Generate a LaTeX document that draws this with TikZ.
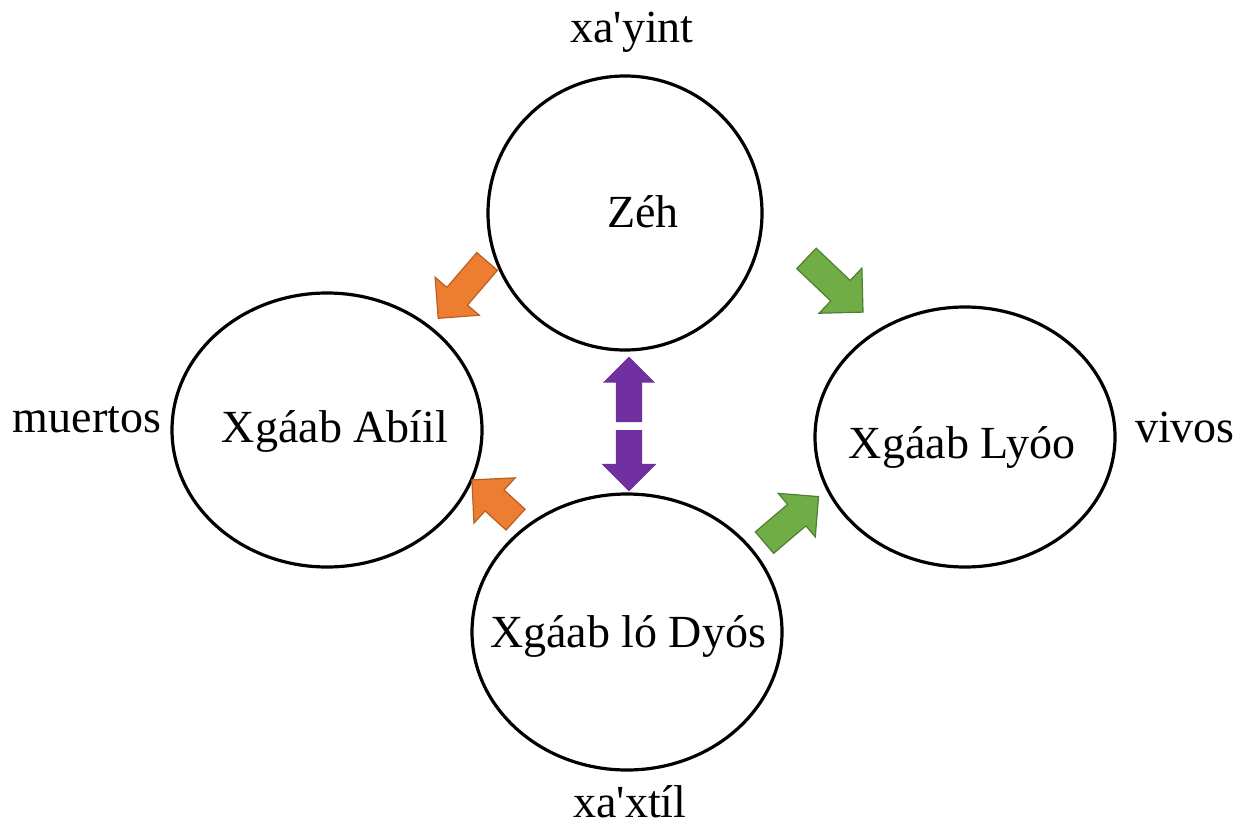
\documentclass[tikz,border=0pt]{standalone}
\usepackage{fontspec}
\setmainfont{Liberation Serif}
\usetikzlibrary{shapes.geometric,shapes.arrows}
\definecolor{orangeF}{HTML}{ED7D31}
\definecolor{orangeD}{HTML}{B85F22}
\definecolor{greenF}{HTML}{70AD47}
\definecolor{greenD}{HTML}{507E32}
\definecolor{purpleF}{HTML}{7030A0}
\tikzset{
  ring/.style={draw=black, line width=1.6pt, ellipse, inner sep=0pt},
  word/.style={font=\fontsize{23}{27}\selectfont, inner sep=0pt, anchor=base},
  blockarrow/.style={single arrow, single arrow tip angle=90, inner xsep=0pt,
     anchor=tail, line width=0.6pt, minimum width=1pt},
  orangearrow/.style={blockarrow, fill=orangeF, draw=orangeD},
  greenarrow/.style={blockarrow, fill=greenF, draw=greenD},
  purplearrow/.style={blockarrow, fill=purpleF, draw=purpleF},
}
\begin{document}
\begin{tikzpicture}[x=0.5pt, y=-0.5pt]
\useasboundingbox (0,0) rectangle (1240,828);
% circles
\node[ring, minimum width=137pt, minimum height=137pt] (zeh) at (625,213) {};
\node[ring, minimum width=155pt, minimum height=137pt] (abiil) at (327,430) {};
\node[ring, minimum width=150pt, minimum height=130pt] (lyoo) at (965,437) {};
\node[ring, minimum width=155pt, minimum height=138pt] (dyos) at (627,632) {};
% texts in circles
\node[word] (tzeh) at (643,228) {Zéh};
\node[word] (tabiil) at (335,442) {Xgáab Abíil};
\node[word] (tlyoo) at (962,458) {Xgáab Lyóo};
\node[word] (tdyos) at (628,647) {Xgáab ló Dyós};
% outer labels
\node[word] (lyint) at (632,43) {xa\textquotesingle yint};
\node[word] (lmuertos) at (87,432) {muertos};
\node[word] (lvivos) at (1185,442) {vivos};
\node[word] (lxtil) at (630,817) {xa\textquotesingle xtíl};
% block arrows
\node[orangearrow, rotate=229.3, minimum height=37.5pt, inner ysep=6.5pt,
      single arrow head extend=7.75pt] (a1) at (487.5,261) {};
\node[greenarrow, rotate=-43.5, minimum height=39pt, inner ysep=6.75pt,
      single arrow head extend=8.5pt] (a2) at (806,258) {};
\node[purplearrow, rotate=90, minimum height=32pt, inner ysep=6pt,
      single arrow head extend=6pt] (a3) at (629,422) {};
\node[purplearrow, rotate=-90, minimum height=30pt, inner ysep=6pt,
      single arrow head extend=6.75pt] (a4) at (629,430) {};
\node[orangearrow, rotate=137.7, minimum height=29.5pt, inner ysep=6.75pt,
      single arrow head extend=8.25pt] (a5) at (516,520) {};
\node[greenarrow, rotate=40.4, minimum height=35.5pt, inner ysep=6.75pt,
      single arrow head extend=7.25pt] (a6) at (764,543) {};
\end{tikzpicture}
\end{document}
